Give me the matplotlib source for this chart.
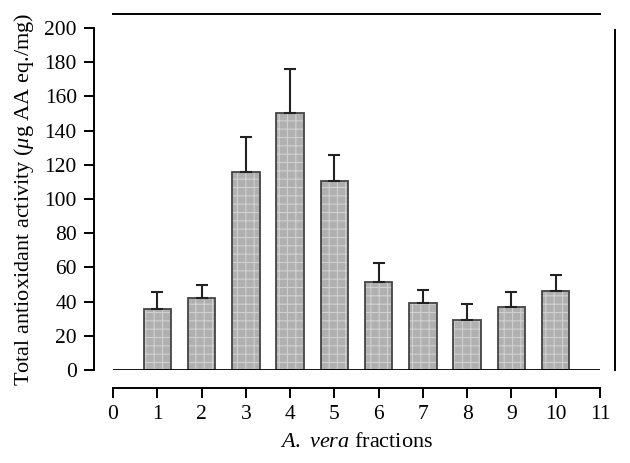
import numpy as np
import matplotlib
matplotlib.use('Agg')
import matplotlib.pyplot as plt

plt.rcParams['font.family'] = ['Liberation Serif', 'DejaVu Serif']
plt.rcParams['mathtext.fontset'] = 'custom'
plt.rcParams['mathtext.rm'] = 'Liberation Serif'
plt.rcParams['mathtext.it'] = 'Liberation Serif:italic'
plt.rcParams['hatch.color'] = '#d0d0d0'
plt.rcParams['hatch.linewidth'] = 0.8

# values
fractions = [1, 2, 3, 4, 5, 6, 7, 8, 9, 10]
activity = [35.5, 42.0, 116.0, 150.0, 110.5, 51.3, 39.0, 29.2, 36.8, 46.0]
errors = [10.1, 7.7, 20.0, 26.0, 15.0, 11.3, 7.8, 9.6, 8.8, 9.5]
xticks = list(range(0, 12))
yticks = list(range(0, 201, 20))

fig = plt.figure(figsize=(6.3, 4.63), dpi=100)
ax = fig.add_axes([0.1794, 0.2009, 0.773, 0.7387])

ax.bar(fractions, activity, width=0.62, color='#b0b0b0', edgecolor='#d0d0d0',
       hatch='++', linewidth=0, zorder=2)
ax.bar(fractions, activity, width=0.62, color='none', edgecolor='#444444',
       linewidth=1.3, zorder=3)
ax.errorbar(fractions, activity, yerr=[np.zeros(len(errors)), errors], fmt='none',
            ecolor='#222222', elinewidth=1.5, capsize=4.5, capthick=1.5, zorder=4)

ax.axhline(0, color='black', lw=2, zorder=5)

ax.set_xlim(0, 11)
ax.set_ylim(0, 200)
ax.set_xticks(xticks)
ax.set_yticks(yticks)

ax.spines['top'].set_visible(False)
ax.spines['right'].set_visible(False)
ax.spines['left'].set_position(('outward', 14))
ax.spines['bottom'].set_position(('outward', 13))
for s in ['left', 'bottom']:
    ax.spines[s].set_linewidth(1.4)
ax.tick_params(axis='both', direction='out', length=7, width=1.4, labelsize=15.5)
ax.tick_params(axis='x', pad=5)
ax.tick_params(axis='y', pad=5)

# frame lines of the original figure
ax.plot([0, 1], [1.041, 1.041], transform=ax.transAxes, color='black', lw=1.4, clip_on=False)
ax.plot([1.031, 1.031], [0, 0.994], transform=ax.transAxes, color='black', lw=1.4, clip_on=False)

ax.set_xlabel(r'$\it{A.}$ $\it{vera}$ fractions', fontsize=16, labelpad=7)
ax.set_ylabel(r'Total antioxidant activity ($\mu$g AA eq./mg)', fontsize=16, labelpad=6)

fig.savefig('out.png', dpi=100)
